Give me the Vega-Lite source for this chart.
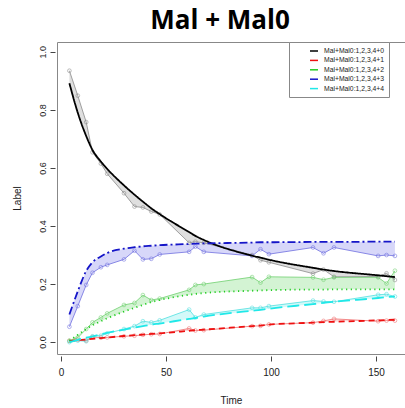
{
  "$schema": "https://vega.github.io/schema/vega-lite/v6.json",
  "width": 348,
  "height": 312,
  "autosize": "none",
  "padding": {"left": 57, "top": 42, "right": 0, "bottom": 54},
  "title": {"text": "Mal + Mal0", "fontSize": 26, "font": "Open Sans", "fontWeight": "bold", "color": "black", "anchor": "middle", "dx": -11, "offset": 8},
  "config": {
    "view": {"stroke": "#888", "strokeWidth": 1},
    "font": "Liberation Sans",
    "axis": {"grid": false, "domain": false, "ticks": true, "tickColor": "#444", "tickSize": 5, "offset": 2, "labelFontSize": 10, "labelColor": "#222", "titleFontSize": 10, "titleFontWeight": "normal", "titleColor": "#222", "labelFont": "Liberation Sans", "titleFont": "Liberation Sans"}
  },
  "data": {"values": [
    {"series":"Mal+Mal0:1,2,3,4+0","time":4,"obs":0.935,"fit":0.892},
    {"series":"Mal+Mal0:1,2,3,4+0","time":8,"obs":0.849,"fit":0.790},
    {"series":"Mal+Mal0:1,2,3,4+0","time":12,"obs":0.758,"fit":0.710},
    {"series":"Mal+Mal0:1,2,3,4+0","time":15,"obs":0.654,"fit":0.662},
    {"series":"Mal+Mal0:1,2,3,4+0","time":19,"obs":0.615,"fit":0.622},
    {"series":"Mal+Mal0:1,2,3,4+0","time":22,"obs":0.580,"fit":0.597},
    {"series":"Mal+Mal0:1,2,3,4+0","time":30,"obs":0.513,"fit":0.540},
    {"series":"Mal+Mal0:1,2,3,4+0","time":35,"obs":0.467,"fit":0.508},
    {"series":"Mal+Mal0:1,2,3,4+0","time":39,"obs":0.464,"fit":0.484},
    {"series":"Mal+Mal0:1,2,3,4+0","time":43,"obs":0.450,"fit":0.461},
    {"series":"Mal+Mal0:1,2,3,4+0","time":47,"obs":0.440,"fit":0.441},
    {"series":"Mal+Mal0:1,2,3,4+0","time":61,"obs":0.342,"fit":0.379},
    {"series":"Mal+Mal0:1,2,3,4+0","time":64,"obs":0.346,"fit":0.366},
    {"series":"Mal+Mal0:1,2,3,4+0","time":68,"obs":0.342,"fit":0.352},
    {"series":"Mal+Mal0:1,2,3,4+0","time":91,"obs":0.300,"fit":0.298},
    {"series":"Mal+Mal0:1,2,3,4+0","time":95,"obs":0.282,"fit":0.291},
    {"series":"Mal+Mal0:1,2,3,4+0","time":99,"obs":0.275,"fit":0.284},
    {"series":"Mal+Mal0:1,2,3,4+0","time":120,"obs":0.236,"fit":0.256},
    {"series":"Mal+Mal0:1,2,3,4+0","time":125,"obs":0.250,"fit":0.250},
    {"series":"Mal+Mal0:1,2,3,4+0","time":130,"obs":0.225,"fit":0.245},
    {"series":"Mal+Mal0:1,2,3,4+0","time":151,"obs":0.226,"fit":0.230},
    {"series":"Mal+Mal0:1,2,3,4+0","time":155,"obs":0.237,"fit":0.227},
    {"series":"Mal+Mal0:1,2,3,4+0","time":159,"obs":0.214,"fit":0.224},
    {"series":"Mal+Mal0:1,2,3,4+1","time":4,"obs":0.004,"fit":0.004},
    {"series":"Mal+Mal0:1,2,3,4+1","time":8,"obs":0.008,"fit":0.007},
    {"series":"Mal+Mal0:1,2,3,4+1","time":12,"obs":0.005,"fit":0.009},
    {"series":"Mal+Mal0:1,2,3,4+1","time":15,"obs":0.018,"fit":0.011},
    {"series":"Mal+Mal0:1,2,3,4+1","time":19,"obs":0.015,"fit":0.014},
    {"series":"Mal+Mal0:1,2,3,4+1","time":22,"obs":0.016,"fit":0.016},
    {"series":"Mal+Mal0:1,2,3,4+1","time":30,"obs":0.020,"fit":0.021},
    {"series":"Mal+Mal0:1,2,3,4+1","time":35,"obs":0.022,"fit":0.024},
    {"series":"Mal+Mal0:1,2,3,4+1","time":39,"obs":0.025,"fit":0.026},
    {"series":"Mal+Mal0:1,2,3,4+1","time":43,"obs":0.027,"fit":0.028},
    {"series":"Mal+Mal0:1,2,3,4+1","time":47,"obs":0.028,"fit":0.030},
    {"series":"Mal+Mal0:1,2,3,4+1","time":61,"obs":0.047,"fit":0.039},
    {"series":"Mal+Mal0:1,2,3,4+1","time":64,"obs":0.040,"fit":0.041},
    {"series":"Mal+Mal0:1,2,3,4+1","time":68,"obs":0.041,"fit":0.043},
    {"series":"Mal+Mal0:1,2,3,4+1","time":91,"obs":0.055,"fit":0.055},
    {"series":"Mal+Mal0:1,2,3,4+1","time":95,"obs":0.056,"fit":0.057},
    {"series":"Mal+Mal0:1,2,3,4+1","time":99,"obs":0.061,"fit":0.060},
    {"series":"Mal+Mal0:1,2,3,4+1","time":120,"obs":0.067,"fit":0.067},
    {"series":"Mal+Mal0:1,2,3,4+1","time":125,"obs":0.073,"fit":0.069},
    {"series":"Mal+Mal0:1,2,3,4+1","time":130,"obs":0.080,"fit":0.070},
    {"series":"Mal+Mal0:1,2,3,4+1","time":151,"obs":0.072,"fit":0.075},
    {"series":"Mal+Mal0:1,2,3,4+1","time":155,"obs":0.074,"fit":0.076},
    {"series":"Mal+Mal0:1,2,3,4+1","time":159,"obs":0.074,"fit":0.077},
    {"series":"Mal+Mal0:1,2,3,4+2","time":4,"obs":0.005,"fit":0.005},
    {"series":"Mal+Mal0:1,2,3,4+2","time":8,"obs":0.015,"fit":0.025},
    {"series":"Mal+Mal0:1,2,3,4+2","time":12,"obs":0.045,"fit":0.045},
    {"series":"Mal+Mal0:1,2,3,4+2","time":15,"obs":0.068,"fit":0.058},
    {"series":"Mal+Mal0:1,2,3,4+2","time":19,"obs":0.085,"fit":0.072},
    {"series":"Mal+Mal0:1,2,3,4+2","time":22,"obs":0.099,"fit":0.082},
    {"series":"Mal+Mal0:1,2,3,4+2","time":30,"obs":0.128,"fit":0.105},
    {"series":"Mal+Mal0:1,2,3,4+2","time":35,"obs":0.135,"fit":0.118},
    {"series":"Mal+Mal0:1,2,3,4+2","time":39,"obs":0.162,"fit":0.128},
    {"series":"Mal+Mal0:1,2,3,4+2","time":43,"obs":0.145,"fit":0.138},
    {"series":"Mal+Mal0:1,2,3,4+2","time":47,"obs":0.150,"fit":0.145},
    {"series":"Mal+Mal0:1,2,3,4+2","time":61,"obs":0.180,"fit":0.163},
    {"series":"Mal+Mal0:1,2,3,4+2","time":64,"obs":0.197,"fit":0.166},
    {"series":"Mal+Mal0:1,2,3,4+2","time":68,"obs":0.200,"fit":0.169},
    {"series":"Mal+Mal0:1,2,3,4+2","time":91,"obs":0.224,"fit":0.177},
    {"series":"Mal+Mal0:1,2,3,4+2","time":95,"obs":0.205,"fit":0.178},
    {"series":"Mal+Mal0:1,2,3,4+2","time":99,"obs":0.225,"fit":0.179},
    {"series":"Mal+Mal0:1,2,3,4+2","time":120,"obs":0.223,"fit":0.181},
    {"series":"Mal+Mal0:1,2,3,4+2","time":125,"obs":0.215,"fit":0.181},
    {"series":"Mal+Mal0:1,2,3,4+2","time":130,"obs":0.223,"fit":0.182},
    {"series":"Mal+Mal0:1,2,3,4+2","time":151,"obs":0.223,"fit":0.182},
    {"series":"Mal+Mal0:1,2,3,4+2","time":155,"obs":0.202,"fit":0.182},
    {"series":"Mal+Mal0:1,2,3,4+2","time":159,"obs":0.246,"fit":0.182},
    {"series":"Mal+Mal0:1,2,3,4+3","time":4,"obs":0.053,"fit":0.095},
    {"series":"Mal+Mal0:1,2,3,4+3","time":8,"obs":0.124,"fit":0.175},
    {"series":"Mal+Mal0:1,2,3,4+3","time":12,"obs":0.197,"fit":0.245},
    {"series":"Mal+Mal0:1,2,3,4+3","time":15,"obs":0.239,"fit":0.275},
    {"series":"Mal+Mal0:1,2,3,4+3","time":19,"obs":0.258,"fit":0.295},
    {"series":"Mal+Mal0:1,2,3,4+3","time":22,"obs":0.266,"fit":0.307},
    {"series":"Mal+Mal0:1,2,3,4+3","time":30,"obs":0.285,"fit":0.322},
    {"series":"Mal+Mal0:1,2,3,4+3","time":35,"obs":0.315,"fit":0.327},
    {"series":"Mal+Mal0:1,2,3,4+3","time":39,"obs":0.285,"fit":0.330},
    {"series":"Mal+Mal0:1,2,3,4+3","time":43,"obs":0.287,"fit":0.332},
    {"series":"Mal+Mal0:1,2,3,4+3","time":47,"obs":0.302,"fit":0.334},
    {"series":"Mal+Mal0:1,2,3,4+3","time":61,"obs":0.311,"fit":0.338},
    {"series":"Mal+Mal0:1,2,3,4+3","time":64,"obs":0.329,"fit":0.339},
    {"series":"Mal+Mal0:1,2,3,4+3","time":68,"obs":0.311,"fit":0.340},
    {"series":"Mal+Mal0:1,2,3,4+3","time":91,"obs":0.297,"fit":0.343},
    {"series":"Mal+Mal0:1,2,3,4+3","time":95,"obs":0.320,"fit":0.344},
    {"series":"Mal+Mal0:1,2,3,4+3","time":99,"obs":0.303,"fit":0.344},
    {"series":"Mal+Mal0:1,2,3,4+3","time":120,"obs":0.326,"fit":0.345},
    {"series":"Mal+Mal0:1,2,3,4+3","time":125,"obs":0.306,"fit":0.345},
    {"series":"Mal+Mal0:1,2,3,4+3","time":130,"obs":0.326,"fit":0.345},
    {"series":"Mal+Mal0:1,2,3,4+3","time":151,"obs":0.297,"fit":0.346},
    {"series":"Mal+Mal0:1,2,3,4+3","time":155,"obs":0.300,"fit":0.346},
    {"series":"Mal+Mal0:1,2,3,4+3","time":159,"obs":0.297,"fit":0.346},
    {"series":"Mal+Mal0:1,2,3,4+4","time":4,"obs":0.000,"fit":0.000},
    {"series":"Mal+Mal0:1,2,3,4+4","time":8,"obs":0.005,"fit":0.008},
    {"series":"Mal+Mal0:1,2,3,4+4","time":12,"obs":0.003,"fit":0.015},
    {"series":"Mal+Mal0:1,2,3,4+4","time":15,"obs":0.020,"fit":0.020},
    {"series":"Mal+Mal0:1,2,3,4+4","time":19,"obs":0.022,"fit":0.027},
    {"series":"Mal+Mal0:1,2,3,4+4","time":22,"obs":0.030,"fit":0.032},
    {"series":"Mal+Mal0:1,2,3,4+4","time":30,"obs":0.045,"fit":0.043},
    {"series":"Mal+Mal0:1,2,3,4+4","time":35,"obs":0.055,"fit":0.050},
    {"series":"Mal+Mal0:1,2,3,4+4","time":39,"obs":0.072,"fit":0.055},
    {"series":"Mal+Mal0:1,2,3,4+4","time":43,"obs":0.068,"fit":0.060},
    {"series":"Mal+Mal0:1,2,3,4+4","time":47,"obs":0.075,"fit":0.064},
    {"series":"Mal+Mal0:1,2,3,4+4","time":61,"obs":0.112,"fit":0.080},
    {"series":"Mal+Mal0:1,2,3,4+4","time":64,"obs":0.085,"fit":0.083},
    {"series":"Mal+Mal0:1,2,3,4+4","time":68,"obs":0.095,"fit":0.088},
    {"series":"Mal+Mal0:1,2,3,4+4","time":91,"obs":0.118,"fit":0.108},
    {"series":"Mal+Mal0:1,2,3,4+4","time":95,"obs":0.118,"fit":0.111},
    {"series":"Mal+Mal0:1,2,3,4+4","time":99,"obs":0.124,"fit":0.115},
    {"series":"Mal+Mal0:1,2,3,4+4","time":120,"obs":0.143,"fit":0.131},
    {"series":"Mal+Mal0:1,2,3,4+4","time":125,"obs":0.140,"fit":0.135},
    {"series":"Mal+Mal0:1,2,3,4+4","time":130,"obs":0.139,"fit":0.139},
    {"series":"Mal+Mal0:1,2,3,4+4","time":151,"obs":0.163,"fit":0.152},
    {"series":"Mal+Mal0:1,2,3,4+4","time":155,"obs":0.165,"fit":0.155},
    {"series":"Mal+Mal0:1,2,3,4+4","time":159,"obs":0.157,"fit":0.157}
  ]},
  "encoding": {
    "x": {"field": "time", "type": "quantitative", "title": "Time",
          "scale": {"domain": [-1.9, 163.8], "nice": false, "zero": false},
          "axis": {"values": [0, 50, 100, 150], "labelPadding": 6, "titlePadding": 18}}
  },
  "layer": [
    {
      "mark": {"type": "area", "opacity": 0.4, "strokeWidth": 0},
      "encoding": {
        "y": {"field": "obs", "type": "quantitative"},
        "y2": {"field": "fit"},
        "color": {"field": "series", "type": "nominal", "legend": null,
                  "scale": {"range": ["#b0b0b0", "#f49a9a", "#90e090", "#9a9af0", "#90f0f0"]}}
      }
    },
    {
      "mark": {"type": "line", "strokeWidth": 0.8},
      "encoding": {
        "y": {"field": "obs", "type": "quantitative"},
        "color": {"field": "series", "type": "nominal", "legend": null,
                  "scale": {"range": ["#8a8a8a", "#f07070", "#70d070", "#7070e0", "#50e0e0"]}}
      }
    },
    {
      "mark": {"type": "point", "filled": false, "size": 14, "strokeWidth": 0.8},
      "encoding": {
        "y": {"field": "obs", "type": "quantitative"},
        "color": {"field": "series", "type": "nominal", "legend": null,
                  "scale": {"range": ["#8a8a8a", "#f07070", "#70d070", "#7070e0", "#50e0e0"]}}
      }
    },
    {
      "mark": {"type": "line", "strokeWidth": 1.8, "interpolate": "monotone"},
      "encoding": {
        "y": {"field": "fit", "type": "quantitative", "title": "Label",
              "scale": {"domain": [-0.041, 1.034], "nice": false, "zero": false},
              "axis": {"values": [0, 0.2, 0.4, 0.6, 0.8, 1.0], "format": ".1f", "labelAngle": -90, "labelAlign": "center", "labelBaseline": "bottom", "labelPadding": 3, "labelFontSize": 9, "titlePadding": 16}},
        "color": {"field": "series", "type": "nominal", "title": null,
                  "scale": {"range": ["#000000", "#ee1111", "#22cc22", "#1515c8", "#20e8e8"]},
                  "legend": {"orient": "none", "legendX": 232, "legendY": 0, "strokeColor": "#888", "fillColor": "white", "padding": 4, "labelFontSize": 6.8, "labelLimit": 200, "symbolType": "stroke", "symbolSize": 64, "symbolStrokeWidth": 1.5, "rowPadding": 0.4, "symbolOffset": 16, "labelOffset": 5, "labelColor": "#222"}},
        "strokeDash": {"field": "series", "type": "nominal", "title": null,
                  "scale": {"range": [[1, 0], [6, 4], [1.2, 3.5], [8, 3, 2, 3], [12, 5]]}}
      }
    }
  ],
  "resolve": {"scale": {"color": "independent"}}
}
